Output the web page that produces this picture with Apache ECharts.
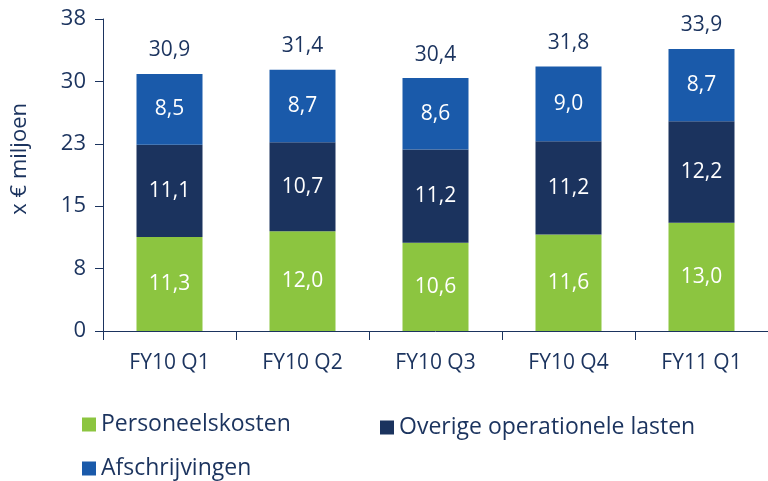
<!DOCTYPE html>
<html><head><meta charset="utf-8">
<script src="https://cdn.jsdelivr.net/npm/echarts@6/dist/echarts.min.js"></script>
<style>html,body{margin:0;padding:0;background:#fff}#c{width:768px;height:481px}</style>
</head><body><div id="c"></div>
<script>
var categories = ['FY10 Q1','FY10 Q2','FY10 Q3','FY10 Q4','FY11 Q1'];
var personeelskosten = [11.3, 12.0, 10.6, 11.6, 13.0];
var overige = [11.1, 10.7, 11.2, 11.2, 12.2];
var afschrijvingen = [8.5, 8.7, 8.6, 9.0, 8.7];
var totals = [30.9, 31.4, 30.4, 31.8, 33.9];
var yTicks = [0, 7.5, 15, 22.5, 30, 37.5];

var NAVY = '#1b335e', GREEN = '#8cc540', BLUE = '#1a5aaa';
var FONT = 'Open Sans';
function fmt(v){ return v.toFixed(1).replace('.', ','); }
function inLabel(){ return {show:true, position:'inside', color:'#fff', fontSize:21, fontFamily:FONT, formatter:function(p){return fmt(p.value);}}; }

var chart = echarts.init(document.getElementById('c'), null, {renderer:'canvas'});
chart.setOption({
  animation:false,
  textStyle:{fontFamily:FONT},
  grid:{left:103, top:19, width:670, height:312, containLabel:false},
  graphic:[{type:'text', left:9, top:103, rotation:Math.PI/2,
    style:{text:'x € miljoen', fill:NAVY, fontSize:22, fontFamily:FONT}}],
  xAxis:{type:'category', data:categories,
    axisLine:{lineStyle:{color:NAVY, width:1}},
    axisTick:{show:true, length:9, lineStyle:{color:NAVY}},
    axisLabel:{color:NAVY, fontSize:21, fontFamily:FONT, margin:22}},
  yAxis:{type:'value', min:yTicks[0], max:yTicks[yTicks.length-1], interval:yTicks[1]-yTicks[0],
    axisLine:{show:true, lineStyle:{color:NAVY, width:1}},
    axisTick:{show:true, length:8, lineStyle:{color:NAVY}},
    splitLine:{show:false},
    axisLabel:{color:NAVY, fontSize:22, fontFamily:FONT, margin:17, formatter:function(v){return String(Math.round(v));}}},
  legend:[
    {data:['Personeelskosten'], left:77, top:408, itemWidth:14, itemHeight:14, icon:'rect',
      textStyle:{color:NAVY, fontSize:23, fontFamily:FONT}},
    {data:['Overige operationele lasten'], left:375, top:411, itemWidth:14, itemHeight:14, icon:'rect',
      textStyle:{color:NAVY, fontSize:23, fontFamily:FONT}},
    {data:['Afschrijvingen'], left:77, top:452, itemWidth:14, itemHeight:14, icon:'rect',
      textStyle:{color:NAVY, fontSize:23, fontFamily:FONT}}
  ],
  series:[
    {name:'Personeelskosten', type:'bar', stack:'s', data:personeelskosten, barWidth:66, itemStyle:{color:GREEN}, label:inLabel()},
    {name:'Overige operationele lasten', type:'bar', stack:'s', data:overige, barWidth:66, itemStyle:{color:NAVY}, label:inLabel()},
    {name:'Afschrijvingen', type:'bar', stack:'s', data:afschrijvingen, barWidth:66, itemStyle:{color:BLUE}, label:inLabel()},
    {name:'Totaal', type:'bar', stack:'s', data:totals.map(function(){return 0;}), barWidth:66,
      itemStyle:{color:'transparent'},
      label:{show:true, position:'top', distance:13, color:NAVY, fontSize:21, fontFamily:FONT,
        formatter:function(p){return fmt(totals[p.dataIndex]);}}}
  ]
});
</script></body></html>
